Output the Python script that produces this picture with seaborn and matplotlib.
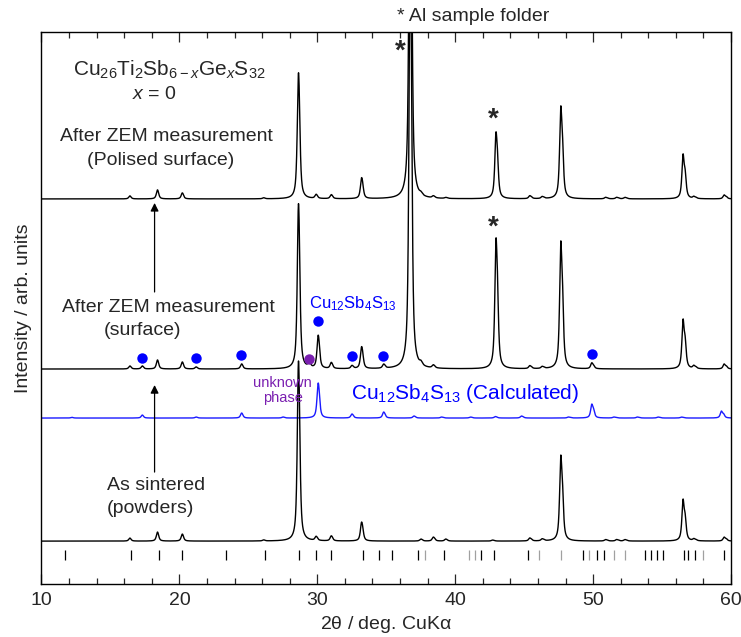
import numpy as np
import pandas as pd
import matplotlib
matplotlib.use("Agg")
import matplotlib.pyplot as plt
from matplotlib.ticker import MultipleLocator
import seaborn as sns

# peak lists: 2theta (deg) and height above the pattern baseline
top_pos = [16.4, 18.4, 20.2, 26.1, 28.62, 29.9, 31.0, 33.2, 36.72, 37.5, 38.4, 39.3,
           42.95, 45.4, 46.3, 47.65, 50.9, 51.7, 52.3, 56.52, 57.3, 59.5]
top_hgt = [3, 9, 6, 1, 126, 4, 4, 21, 420, 2, 2, 1,
           67, 3, 2, 93, 1.5, 1.5, 1.5, 45, 2, 4]

mid_pos = [16.4, 17.3, 18.4, 20.2, 21.2, 24.5, 28.62, 29.4, 30.05, 31.0, 32.5, 33.2,
           34.8, 36.72, 37.5, 38.4, 42.95, 45.4, 46.3, 47.65, 49.9, 56.52, 57.3, 59.5]
mid_hgt = [3, 3, 9, 7, 2, 5, 165, 5, 33, 6, 3, 22,
           4, 420, 3, 3, 131, 3, 2, 128, 6, 50, 3, 5]

calc_pos = [12.2, 17.3, 21.2, 24.5, 27.5, 30.05, 32.5, 34.8, 37.0, 39.0, 41.1, 42.9,
            44.8, 48.2, 49.9, 51.5, 53.2, 54.7, 56.4, 59.3]
calc_hgt = [0.7, 3, 1, 5, 1, 35, 4, 6, 2, 1, 1, 1.5,
            2, 1, 14, 1, 1, 1, 1, 7]

bot_pos = [16.4, 18.4, 20.2, 26.1, 28.62, 29.9, 31.0, 33.2, 37.5, 38.4, 39.3, 42.7,
           45.4, 46.3, 47.65, 50.9, 51.7, 52.3, 56.52, 57.3, 59.5]
bot_hgt = [3, 9, 7, 1, 180, 4, 5, 19, 2, 4, 2, 1,
           3, 2, 86, 1.5, 1.5, 1.5, 42, 2, 4]

# vertical offsets of the stacked patterns
offsets = {"polished": 385, "surface": 215, "calc": 166, "sintered": 43}

# reference reflections (tick row)
ref_strong = [11.7, 16.5, 18.5, 20.2, 23.4, 26.2, 28.7, 29.9, 31.0, 33.3, 34.5, 35.4,
              37.3, 39.2, 41.9, 42.8, 45.3, 49.3, 50.3, 50.8, 53.8, 54.2, 54.6, 55.1,
              56.6, 56.9, 57.4, 59.5]
ref_weak = [37.8, 41.0, 41.4, 46.1, 47.7, 49.7, 51.5, 52.3, 58.0]

# Cu12Sb4S13 markers and unknown phase marker
dot_pos = [17.3, 21.2, 24.5, 30.05, 32.5, 34.8, 49.9]
dot_y = [226, 226, 229, 263, 228, 228, 230]
unk_pos = [29.4]
unk_y = [225]


def pattern(pos, hgt, x):
    y = np.zeros_like(x)
    for p, h in zip(pos, hgt):
        th = np.radians(p / 2)
        p2 = 2 * np.degrees(np.arcsin(min(1.0, 1.002512 * np.sin(th))))  # Ka2
        w = 0.095
        shape = (0.75 / (1 + ((x - p) / w) ** 2) + 0.25 * np.exp(-np.log(2) * ((x - p) / w) ** 2)
                 + 0.5 * (0.75 / (1 + ((x - p2) / w) ** 2) + 0.25 * np.exp(-np.log(2) * ((x - p2) / w) ** 2)))
        y += h * shape / shape.max()
    return y


two_theta = np.linspace(10, 60, 8001)
frames = []
for name, pos, hgt in [("polished", top_pos, top_hgt), ("surface", mid_pos, mid_hgt),
                       ("calc", calc_pos, calc_hgt), ("sintered", bot_pos, bot_hgt)]:
    frames.append(pd.DataFrame({"two_theta": two_theta,
                                "I": offsets[name] + pattern(pos, hgt, two_theta),
                                "pattern": name}))
df = pd.concat(frames, ignore_index=True)

sns.set_style("ticks")
plt.rcParams["font.family"] = ["Liberation Sans", "DejaVu Sans"]
plt.rcParams["mathtext.fontset"] = "custom"
plt.rcParams["mathtext.rm"] = "Liberation Sans"
plt.rcParams["mathtext.it"] = "Liberation Sans:italic"
plt.rcParams["mathtext.default"] = "regular"

fig = plt.figure(figsize=(7.41, 6.37), dpi=100)
ax = fig.add_axes([0.056, 0.083, 0.9305, 0.867])

sns.lineplot(data=df, x="two_theta", y="I", hue="pattern",
             palette={"polished": "black", "surface": "black", "calc": "#1a1aff", "sintered": "black"},
             estimator=None, sort=False, legend=False, lw=1.0, ax=ax)

ax.vlines(ref_strong, 24, 34, color="black", lw=0.9)
ax.vlines(ref_weak, 24, 34, color="#a0a0a0", lw=0.9)

ax.plot(dot_pos, dot_y, "o", color="#0000ff", ms=7.5, mec="none")
ax.plot(unk_pos, unk_y, "o", color="#7a1fb0", ms=7.5, mec="none")

ax.set_xlim(10, 60)
ax.set_ylim(0, 552)
ax.set_yticks([])
ax.xaxis.set_major_locator(MultipleLocator(10))
ax.xaxis.set_minor_locator(MultipleLocator(2))
ax.tick_params(axis="x", which="both", direction="in", top=True, labelsize=14, pad=6)
ax.tick_params(axis="x", which="major", length=7, width=0.9)
ax.tick_params(axis="x", which="minor", length=4, width=0.9)
for s in ax.spines.values():
    s.set_linewidth(1.0)
    s.set_color("black")

ax.set_xlabel(r"2$\theta$ / deg. CuK$\alpha$", fontsize=14, labelpad=3)
ax.set_ylabel("Intensity / arb. units", fontsize=14, labelpad=7)

fs = 14
ax.text(41.3, 567, "* Al sample folder", fontsize=fs, ha="center", va="center", clip_on=False)
ax.text(19.25, 514, r"Cu$_{26}$Ti$_{2}$Sb$_{6-\mathit{x}}$Ge$_{\mathit{x}}$S$_{32}$",
        fontsize=15, ha="center", va="center")
ax.text(18.2, 489, r"$\mathit{x}$ = 0", fontsize=14, ha="center", va="center")
ax.text(19.06, 447, "After ZEM measurement", fontsize=fs, ha="center", va="center")
ax.text(18.67, 423, "(Polised surface)", fontsize=fs, ha="center", va="center")
ax.text(19.2, 276, "After ZEM measurement", fontsize=fs, ha="center", va="center")
ax.text(17.35, 254, "(surface)", fontsize=fs, ha="center", va="center")
ax.text(14.75, 99, "As sintered", fontsize=fs, ha="left", va="center")
ax.text(14.75, 76, "(powders)", fontsize=fs, ha="left", va="center")
ax.text(32.6, 280, r"Cu$_{12}$Sb$_{4}$S$_{13}$", fontsize=12, color="#0000ff",
        ha="center", va="center")
ax.text(27.5, 201, "unknown", fontsize=10.5, color="#7a1fb0", ha="center", va="center")
ax.text(27.5, 186, "phase", fontsize=10.5, color="#7a1fb0", ha="center", va="center")
ax.text(32.45, 191, r"Cu$_{12}$Sb$_{4}$S$_{13}$ (Calculated)", fontsize=15,
        color="#0000ff", ha="left", va="center")
for sx, sy in [(36.0, 532), (42.74, 464), (42.74, 356)]:
    ax.text(sx, sy, "*", fontsize=20, fontweight="bold", ha="center", va="center")

arrow = dict(arrowstyle="-|>", color="black", lw=0.9, mutation_scale=12, shrinkA=0, shrinkB=0)
ax.annotate("", xy=(18.2, 199), xytext=(18.2, 112), arrowprops=arrow)
ax.annotate("", xy=(18.2, 381), xytext=(18.2, 292), arrowprops=arrow)

fig.savefig("out.png", dpi=100)
